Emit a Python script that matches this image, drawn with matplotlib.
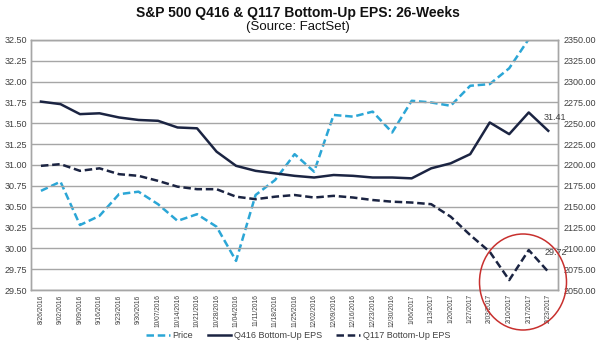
import matplotlib.pyplot as plt
from matplotlib.patches import Ellipse
from matplotlib.lines import Line2D

plt.rcParams['font.family'] = ['Liberation Sans', 'DejaVu Sans']

dates = ["8/26/2016", "9/02/2016", "9/09/2016", "9/16/2016", "9/23/2016", "9/30/2016",
         "10/07/2016", "10/14/2016", "10/21/2016", "10/28/2016", "11/04/2016", "11/11/2016",
         "11/18/2016", "11/25/2016", "12/02/2016", "12/09/2016", "12/16/2016", "12/23/2016",
         "12/30/2016", "1/06/2017", "1/13/2017", "1/20/2017", "1/27/2017", "2/03/2017",
         "2/10/2017", "2/17/2017", "2/23/2017"]
price = [2169, 2180, 2128, 2139, 2165, 2168, 2153, 2133, 2141, 2126, 2085, 2164,
         2182, 2213, 2192, 2260, 2258, 2264, 2239, 2277, 2275, 2271, 2295, 2297,
         2316, 2351, 2364]
q416_eps = [31.76, 31.73, 31.61, 31.62, 31.57, 31.54, 31.53, 31.45, 31.44, 31.16, 30.99, 30.93,
            30.90, 30.87, 30.85, 30.88, 30.87, 30.85, 30.85, 30.84, 30.96, 31.02, 31.13, 31.51,
            31.37, 31.63, 31.41]
q117_eps = [30.99, 31.01, 30.93, 30.96, 30.89, 30.87, 30.81, 30.74, 30.71, 30.71, 30.62, 30.59,
            30.62, 30.64, 30.61, 30.63, 30.61, 30.58, 30.56, 30.55, 30.53, 30.38, 30.16, 29.96,
            29.62, 29.98, 29.72]

price_col = '#2BA6D6'
navy = '#1B2442'
grid_col = '#A6A6A6'
txt_col = '#404040'

fig = plt.figure(figsize=(6, 3.47), dpi=100)
ax = fig.add_axes([0.052, 0.164, 0.878, 0.721])
ax2 = ax.twinx()

x = list(range(len(dates)))

ax.set_ylim(29.5, 32.5)
ax.set_yticks([29.5 + 0.25 * i for i in range(13)])
ax.set_yticklabels([f"{29.5 + 0.25 * i:.2f}" for i in range(13)])
ax.grid(axis='y', color=grid_col, lw=1.0)
ax.set_axisbelow(True)

ax2.set_ylim(2050, 2350)
ax2.set_yticks([2050 + 25 * i for i in range(13)])
ax2.set_yticklabels([f"{2050 + 25 * i:.2f}" for i in range(13)])

ax2.plot(x, price, color=price_col, lw=1.8, ls=(0, (3, 1.5)), clip_on=True)
ax.plot(x, q416_eps, color=navy, lw=1.8)
ax.plot(x, q117_eps, color=navy, lw=1.8, ls=(0, (3, 1.5)))
ax.set_zorder(ax2.get_zorder() + 1)
ax.patch.set_visible(False)

ax.set_xlim(-0.5, len(dates) - 0.5)
ax.set_xticks(x)
ax.set_xticklabels(dates, rotation=90, fontsize=4.8, color=txt_col)
ax.tick_params(axis='x', length=0, pad=3)
ax.tick_params(axis='y', length=0, labelsize=6.5, labelcolor=txt_col, pad=3)
ax2.tick_params(axis='y', length=0, labelsize=6.5, labelcolor=txt_col, pad=4)

for a in (ax, ax2):
    for s in a.spines.values():
        s.set_color(grid_col)
        s.set_linewidth(1.0)

ax.annotate(f"{q416_eps[-1]:.2f}", (x[-1], q416_eps[-1]), xytext=(-3, 8),
            textcoords='offset points', fontsize=6.5, color=txt_col)
ax.annotate(f"{q117_eps[-1]:.2f}", (x[-1], q117_eps[-1]), xytext=(-3, 12),
            textcoords='offset points', fontsize=6.5, color=txt_col)

fig.text(0.497, 0.962, "S&P 500 Q416 & Q117 Bottom-Up EPS: 26-Weeks", ha='center', va='center',
         fontsize=10, fontweight='bold', color='#111111')
fig.text(0.497, 0.922, "(Source: FactSet)", ha='center', va='center', fontsize=9.5, color='#111111')

handles = [Line2D([], [], color=price_col, lw=1.8, ls=(0, (3, 1.5))),
           Line2D([], [], color=navy, lw=1.8),
           Line2D([], [], color=navy, lw=1.8, ls=(0, (3, 1.5)))]
fig.legend(handles, ["Price", "Q416 Bottom-Up EPS", "Q117 Bottom-Up EPS"], loc='center',
           bbox_to_anchor=(0.497, 0.032), ncol=3, frameon=False, fontsize=6.5,
           handlelength=2.6, columnspacing=1.6, handletextpad=0.3, labelcolor=txt_col)

ell = Ellipse((523 / 600, 1 - 282 / 347), 87 / 600, 96 / 347, transform=fig.transFigure,
              fill=False, edgecolor='#C8302E', lw=1.1)
fig.patches.append(ell)

fig.savefig("out.png", dpi=100)
